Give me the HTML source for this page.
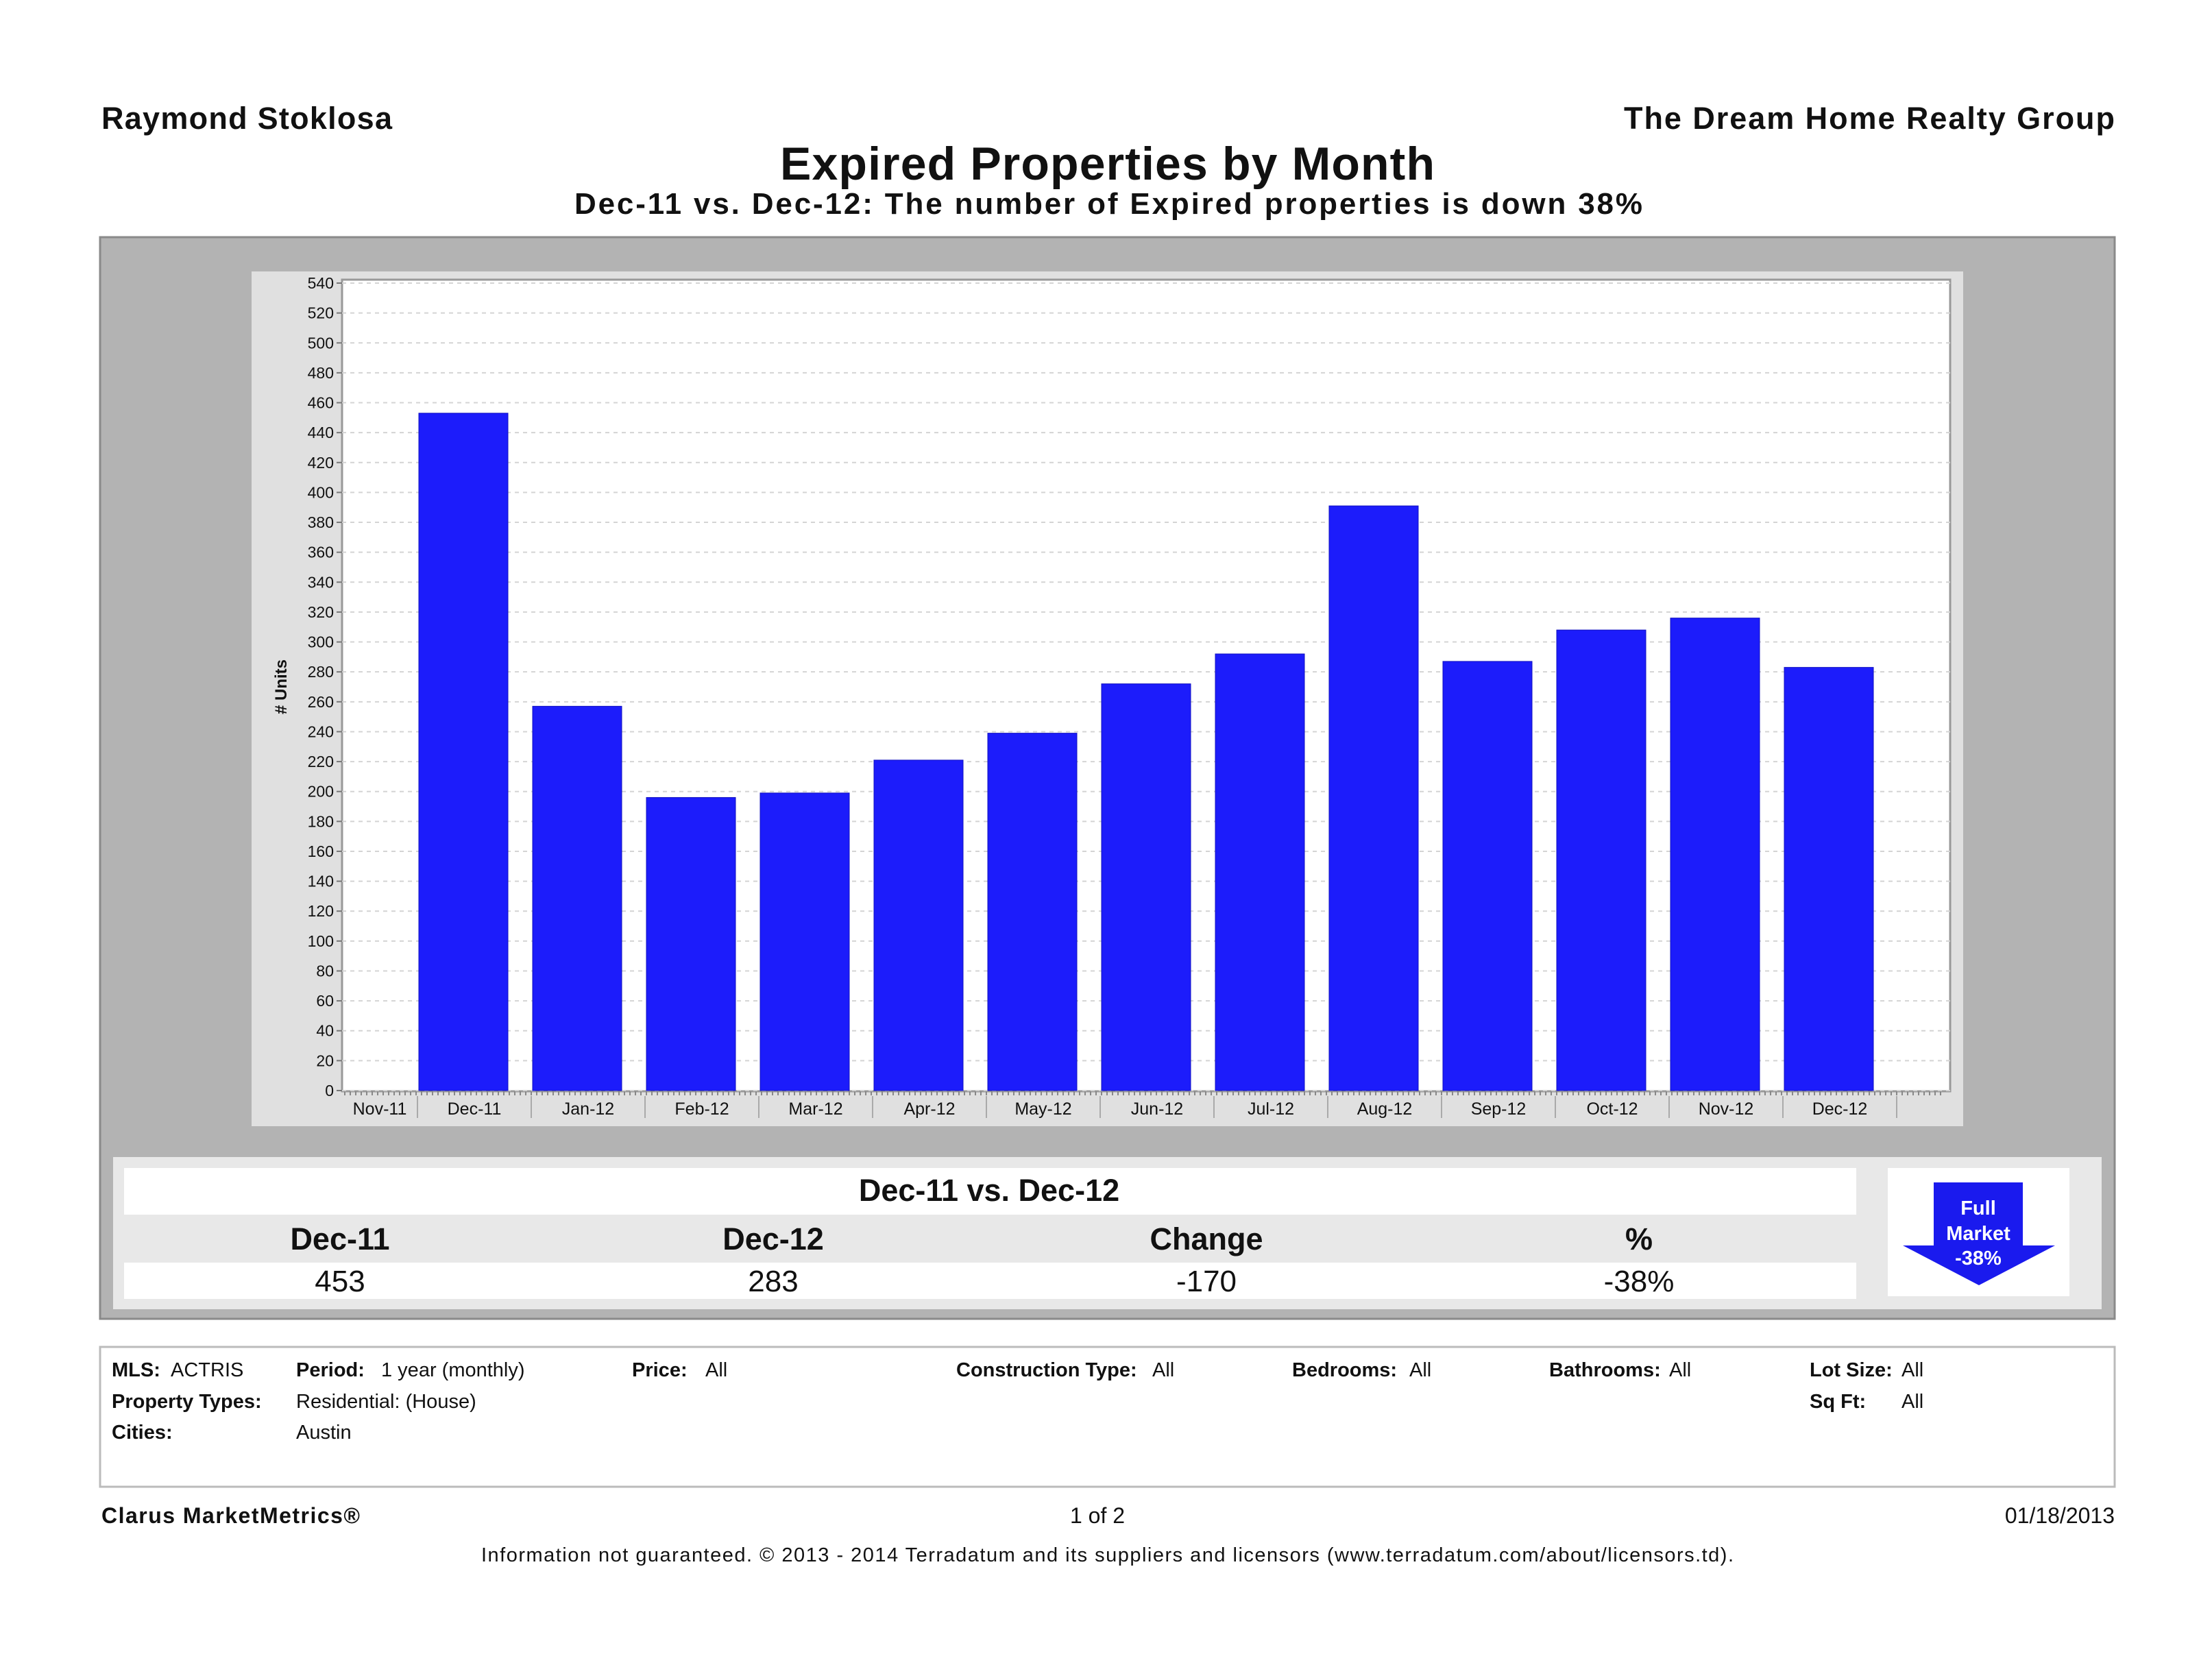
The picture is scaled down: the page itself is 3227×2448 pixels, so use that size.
<!DOCTYPE html>
<html><head><meta charset="utf-8"><style>
html,body{margin:0;padding:0;background:#fff;}
svg{display:block;font-family:"Liberation Sans",sans-serif;}
</style></head><body>
<svg id="root" width="3227" height="2448" viewBox="0 0 3227 2448" xmlns="http://www.w3.org/2000/svg">
<text x="148" y="188" font-size="45" font-weight="bold" fill="#111" textLength="424" lengthAdjust="spacing">Raymond Stoklosa</text>
<text x="2369" y="188" font-size="45" font-weight="bold" fill="#111" textLength="716" lengthAdjust="spacing">The Dream Home Realty Group</text>
<text x="1138" y="262" font-size="68" font-weight="bold" fill="#111" textLength="955" lengthAdjust="spacing">Expired Properties by Month</text>
<text x="838" y="312" font-size="44" font-weight="bold" fill="#111" textLength="1558" lengthAdjust="spacing">Dec-11 vs. Dec-12: The number of Expired properties is down 38%</text>

<rect x="146" y="346" width="2939" height="1578" fill="#b3b3b3" stroke="#8a8a8a" stroke-width="3"/>
<rect x="367" y="396" width="2497" height="1247" fill="#e0e0e0"/>
<rect x="499" y="408" width="2346" height="1184" fill="#fff" stroke="#999" stroke-width="3"/>
<g id="grid"></g><g id="bars"></g><g id="xaxis"></g><g id="yaxis"></g>
<text transform="translate(418,1002) rotate(-90)" font-size="24" font-weight="bold" text-anchor="middle" fill="#111"># Units</text>

<rect x="165" y="1688" width="2901" height="222" fill="#e8e8e8"/>
<rect x="181" y="1704" width="2527" height="68" fill="#fff"/>
<text x="1443" y="1752" font-size="45" font-weight="bold" text-anchor="middle" fill="#111">Dec-11 vs. Dec-12</text>
<g font-size="45" font-weight="bold" text-anchor="middle" fill="#111">
<text x="496" y="1823">Dec-11</text>
<text x="1128" y="1823">Dec-12</text>
<text x="1760" y="1823">Change</text>
<text x="2391" y="1823">%</text>
</g>
<rect x="181" y="1842" width="2527" height="53" fill="#fff"/>
<g font-size="44" text-anchor="middle" fill="#111">
<text x="496" y="1884">453</text>
<text x="1128" y="1884">283</text>
<text x="1760" y="1884">-170</text>
<text x="2391" y="1884">-38%</text>
</g>
<rect x="2754" y="1704" width="265" height="187" fill="#fff"/>
<path d="M2821 1725 H2951 V1817 H2998 L2887 1875 L2776 1817 H2821 Z" fill="#1a1aee"/>
<g font-size="29" font-weight="bold" fill="#fff" text-anchor="middle">
<text x="2886" y="1772">Full</text>
<text x="2886" y="1809">Market</text>
<text x="2886" y="1845">-38%</text>
</g>

<rect x="146" y="1965" width="2939" height="204" fill="#fff" stroke="#bbb" stroke-width="3"/>
<g font-size="29" fill="#111">
<text x="163" y="2008" font-weight="bold">MLS:</text>
<text x="249" y="2008">ACTRIS</text>
<text x="432" y="2008" font-weight="bold">Period:</text>
<text x="556" y="2008">1 year (monthly)</text>
<text x="922" y="2008" font-weight="bold">Price:</text>
<text x="1029" y="2008">All</text>
<text x="1395" y="2008" font-weight="bold">Construction Type:</text>
<text x="1681" y="2008">All</text>
<text x="1885" y="2008" font-weight="bold">Bedrooms:</text>
<text x="2056" y="2008">All</text>
<text x="2260" y="2008" font-weight="bold">Bathrooms:</text>
<text x="2435" y="2008">All</text>
<text x="2640" y="2008" font-weight="bold">Lot Size:</text>
<text x="2774" y="2008">All</text>
<text x="163" y="2054" font-weight="bold">Property Types:</text>
<text x="432" y="2054">Residential: (House)</text>
<text x="2640" y="2054" font-weight="bold">Sq Ft:</text>
<text x="2774" y="2054">All</text>
<text x="163" y="2099" font-weight="bold">Cities:</text>
<text x="432" y="2099">Austin</text>
</g>
<text x="148" y="2222" font-size="32" font-weight="bold" fill="#111" textLength="377" lengthAdjust="spacing">Clarus MarketMetrics®</text>
<text x="1601" y="2222" font-size="32" text-anchor="middle" fill="#111">1 of 2</text>
<text x="3085" y="2222" font-size="32" text-anchor="end" fill="#111">01/18/2013</text>
<text x="702" y="2278" font-size="29" fill="#111" textLength="1827" lengthAdjust="spacing">Information not guaranteed.  © 2013 - 2014 Terradatum and its suppliers and licensors (www.terradatum.com/about/licensors.td).</text>
</svg>
<script>
const categories = ["Dec-11","Jan-12","Feb-12","Mar-12","Apr-12","May-12","Jun-12","Jul-12","Aug-12","Sep-12","Oct-12","Nov-12","Dec-12"];
const values = [453,257,196,199,221,239,272,292,391,287,308,316,283];
const yTicks = [0,20,40,60,80,100,120,140,160,180,200,220,240,260,280,300,320,340,360,380,400,420,440,460,480,500,520,540];
const NS="http://www.w3.org/2000/svg";
const plotL=499,plotR=2845,y0=1591,y540=413,firstDiv=609,slot=166,barW=130;
function y(v){return y0-(v/540)*(y0-y540);}
function x(i){return firstDiv+i*slot;}
function mk(tag,attrs,parent){const e=document.createElementNS(NS,tag);for(const k in attrs)e.setAttribute(k,attrs[k]);parent.appendChild(e);return e;}
const grid=document.getElementById('grid'),bars=document.getElementById('bars'),xa=document.getElementById('xaxis'),ya=document.getElementById('yaxis');
yTicks.forEach(t=>{
  const gl=mk('line',{x1:plotL,x2:plotR,y1:y(t),y2:y(t),stroke:'#d4d4d4','stroke-width':2,'stroke-dasharray':'6 6'},grid);
  
  
  mk('line',{x1:plotL-8,x2:plotL,y1:y(t),y2:y(t),stroke:'#777','stroke-width':2},ya);
  const tl=mk('text',{x:plotL-12,y:y(t)+8,'font-size':23,'text-anchor':'end',fill:'#111'},ya);
  tl.textContent=t;
  
  
});
values.forEach((v,i)=>{
  const r=mk('rect',{x:x(i)+2,y:y(v),width:barW,height:y0-y(v),fill:'#1c1cfb',stroke:'#1010c0','stroke-width':1},bars);
  
  
});
for(let px=plotL+4;px<plotR-10;px+=8){mk('line',{x1:px,x2:px,y1:y0+1,y2:y0+7,stroke:'#888','stroke-width':2},xa);}
const labels=["Nov-11"].concat(categories);
for(let i=0;i<=categories.length;i++){
  mk('line',{x1:x(i),x2:x(i),y1:y0+8,y2:y0+40,stroke:'#aaa','stroke-width':2},xa);
}
labels.forEach((c,j)=>{
  const cx = j===0 ? (plotL+firstDiv)/2 : x(j-1)+slot/2;
  const t=mk('text',{x:cx,y:1626,'font-size':25,'text-anchor':'middle',fill:'#111'},xa);
  t.textContent=c;
  
  
});
</script>
</body></html>
